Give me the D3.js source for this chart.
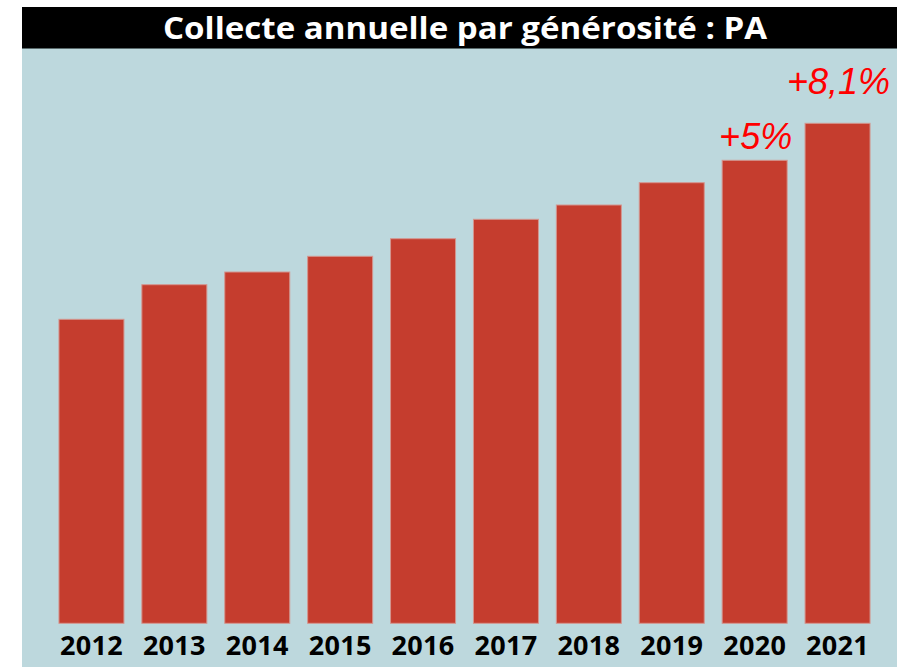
<!DOCTYPE html>
<html>
<head>
<meta charset="utf-8">
<script src="https://cdn.jsdelivr.net/npm/d3@7"></script>
<style>
	body { margin: 0; background: #fff; }
	svg { display: block; }
	.growth { font-family: "Liberation Sans", Arial, sans-serif; font-style: italic; font-size: 36px; fill: #ff0000; }
</style>
</head>
<body>
<svg id="chart"></svg>
<script>
var years = ["2012", "2013", "2014", "2015", "2016", "2017", "2018", "2019", "2020", "2021"];
// collecte annuelle (relative units)
var collecte = [304, 338.6, 351.3, 367, 384.6, 404, 418.3, 440.6, 463, 500];
var growthYears = ["2020", "2021"];
var growthLabels = ["+5%", "+8,1%"];

var width = 897, height = 667;
var panel = {left: 22, top: 48, right: 897, bottom: 667};
var plotBottom = 623.3;

var svg = d3.select("#chart")
	.attr("width", width)
	.attr("height", height);

// background panel
svg.append("rect")
	.attr("x", panel.left).attr("y", panel.top)
	.attr("width", panel.right - panel.left)
	.attr("height", panel.bottom - panel.top)
	.attr("fill", "#bdd8dd");

// title bar
svg.append("rect")
	.attr("x", panel.left).attr("y", 7)
	.attr("width", panel.right - panel.left)
	.attr("height", 41)
	.attr("fill", "#000");
svg.append("line")
	.attr("x1", panel.left).attr("x2", panel.right)
	.attr("y1", 48.5).attr("y2", 48.5)
	.attr("stroke", "#5a6a6c").attr("stroke-width", 1);
svg.append("text")
	.attr("x", 465)
	.attr("y", 39)
	.attr("text-anchor", "middle")
	.attr("textLength", 604)
	.attr("lengthAdjust", "spacingAndGlyphs")
	.style("font-family", "'Open Sans', sans-serif")
	.style("font-weight", 700)
	.style("font-size", "30px")
	.attr("fill", "#fff")
	.text("Collecte annuelle par générosité : PA");

var x = d3.scaleBand()
	.domain(years)
	.range([50, 879])
	.paddingInner(0.216)
	.paddingOuter(0.108);

var y = d3.scaleLinear()
	.domain([0, 500])
	.range([plotBottom, plotBottom - 500]);

svg.selectAll(".bar")
	.data(years).enter().append("rect")
		.attr("class", "bar")
		.attr("x", function (d) { return x(d); })
		.attr("width", x.bandwidth())
		.attr("y", function (d, i) { return y(collecte[i]); })
		.attr("height", function (d, i) { return y(0) - y(collecte[i]); })
		.attr("fill", "#c53d2e")
		.attr("stroke", "#d4968f")
		.attr("stroke-width", 1);

// x axis labels
var xAxis = d3.axisBottom(x).tickSize(0).tickPadding(0);
var gx = svg.append("g")
	.attr("transform", "translate(0," + (plotBottom + 32) + ")")
	.call(xAxis);
gx.select(".domain").remove();
gx.selectAll("text")
	.attr("dy", 0)
	.attr("fill", "#000")
	.style("font-family", "'Open Sans', sans-serif")
	.style("font-weight", 700)
	.style("font-size", "27px")
	.style("letter-spacing", "0.3px");

// growth annotations
svg.selectAll(".growth")
	.data(growthYears).enter().append("text")
		.attr("class", "growth")
		.attr("x", function (d) { return x(d) + x.bandwidth() / 2 + 1; })
		.attr("y", function (d) { return y(collecte[years.indexOf(d)]) - (d === "2021" ? 29 : 11); })
		.attr("text-anchor", "middle")
		.text(function (d, i) { return growthLabels[i]; });
</script>
</body>
</html>
